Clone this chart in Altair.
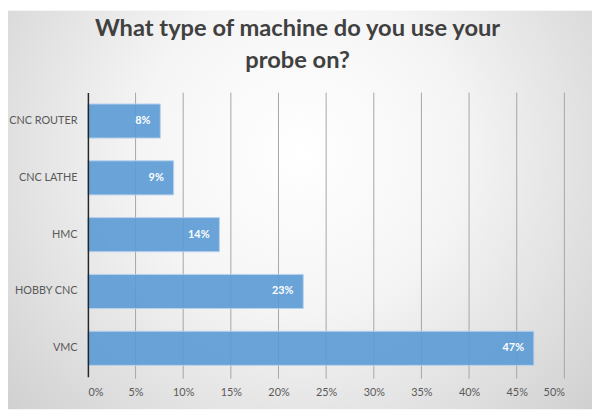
import altair as alt
import pandas as pd

categories = ["CNC ROUTER", "CNC LATHE", "HMC", "HOBBY CNC", "VMC"]
shares = [0.076, 0.090, 0.138, 0.226, 0.468]
labels = ["8%", "9%", "14%", "23%", "47%"]
tick_values = [0, 0.05, 0.10, 0.15, 0.20, 0.25, 0.30, 0.35, 0.40, 0.45, 0.50]

df = pd.DataFrame({"machine": categories, "share": shares, "label": labels})
ticks_df = pd.DataFrame({"t": tick_values[1:]})

W, H = 483, 288
PAD = {"left": 81, "top": 83, "right": 28, "bottom": 33}

bg = alt.Chart(pd.DataFrame({"a": [0]})).mark_rect(
    fill={
        "gradient": "radial",
        "x1": 0.5, "y1": 0.4, "r1": 0,
        "x2": 0.5, "y2": 0.4, "r2": 0.78,
        "stops": [
            {"offset": 0, "color": "#ffffff"},
            {"offset": 0.35, "color": "#f5f5f5"},
            {"offset": 1, "color": "#c6c6c6"},
        ],
    }
).encode(
    x=alt.value(-PAD["left"]), x2=alt.value(W + PAD["right"]),
    y=alt.value(-PAD["top"]), y2=alt.value(H + PAD["bottom"]),
)

ysc = alt.Scale(paddingInner=0.4, paddingOuter=0.2)
xsc = alt.Scale(domain=[0, 0.5], nice=False)

grid = alt.Chart(ticks_df).mark_rule(color="#a6a6a6", strokeWidth=1).encode(
    x=alt.X("t:Q", scale=xsc),
    y=alt.value(0), y2=alt.value(H + 2),
)

base = alt.Chart(df)

bars = base.mark_bar(color="#5b9bd5", opacity=0.9, stroke="#b4cfee", strokeWidth=1).encode(
    x=alt.X("share:Q", scale=xsc, axis=alt.Axis(
        values=tick_values, format=".0%", title=None, grid=False,
        domain=False, ticks=False, labelPadding=10, labelColor="#595959",
        labelFontSize=11, zindex=1)),
    y=alt.Y("machine:N", sort=categories, scale=ysc, axis=alt.Axis(
        title=None, ticks=False, domain=True, domainColor="#262626", domainWidth=1.5,
        labelPadding=11, labelColor="#595959", labelFontSize=11, zindex=1)),
)

text = base.mark_text(align="right", dx=-10, color="white", fontWeight="bold", fontSize=11).encode(
    x=alt.X("share:Q", scale=xsc),
    y=alt.Y("machine:N", sort=categories, scale=ysc),
    text="label:N",
)

chart = alt.layer(bg, grid, bars, text).properties(
    width=W, height=H,
    padding=PAD,
    autosize=alt.AutoSizeParams(type="none"),
    title=alt.TitleParams(
        ["What type of machine do you use your", "probe on?"],
        fontSize=24, fontWeight="bold", color="#404040", font="Lato",
        anchor="middle", dx=-29, offset=-63, lineHeight=32, zindex=1,
    ),
).configure(font="Lato", background="#ffffff").configure_view(stroke=None)

chart.save("out.html", embed_options={"renderer": "svg", "actions": False})
